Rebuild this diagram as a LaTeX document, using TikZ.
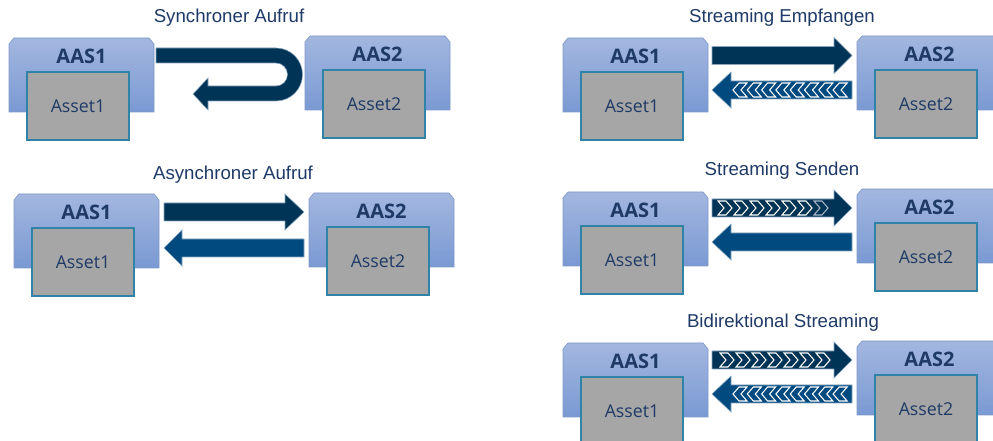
\documentclass[tikz,border=0pt]{standalone}
\usepackage{fontspec}
\setmainfont{Open Sans}
\newfontfamily\titlefont{Liberation Sans}
\usetikzlibrary{calc}

\definecolor{aastop}{HTML}{A3B7DF}
\definecolor{aasbot}{HTML}{7A99D3}
\definecolor{aasedge}{HTML}{8099C8}
\definecolor{assetfill}{HTML}{A6A6A6}
\definecolor{assetedge}{HTML}{2F83A6}
\definecolor{ink}{HTML}{1F3A66}
\definecolor{arrowdark}{HTML}{003456}
\definecolor{arrowmid}{HTML}{004A7F}
\definecolor{arrowedge}{HTML}{8AA6C0}
\definecolor{chevfaint}{HTML}{A9B6C4}

\tikzset{
  aasbox/.style={rectangle, minimum width=108.75pt, minimum height=55.5pt,
    inner sep=0pt, outer sep=0pt},
  aasshape/.style={top color=aastop, bottom color=aasbot, draw=aasedge, line width=0.5pt},
  assetbox/.style={rectangle, fill=assetfill, draw=assetedge, line width=0.8pt,
    minimum width=76.5pt, minimum height=51pt, inner sep=0pt, outer sep=0pt,
    text=ink, font=\fontsize{13.3}{15}\selectfont},
  aaslabel/.style={anchor=base, inner sep=0pt, text=ink,
    font=\bfseries\fontsize{15}{17}\selectfont},
  heading/.style={inner sep=0pt, text=ink, font=\titlefont\fontsize{14}{16}\selectfont},
  blockarrow/.style={draw=arrowedge, line width=0.4pt},
  chev/.style={draw=white, line width=0.8pt, line join=miter},
}

% one AAS with its asset: name, left x, top y, number
\newcommand\aasunit[4]{%
  \node[aasbox] (#1) at (#2+72.5,#3+37) {};
  \path[aasshape] (#1.south west) -- ($(#1.north west)+(0,6)$) -- ($(#1.north west)+(5,0)$)
    -- ($(#1.north east)+(-5,0)$) -- ($(#1.north east)+(0,6)$) -- (#1.south east) -- cycle;
  \node[aaslabel] (#1-t) at (#2+72.5,#3+26) {AAS#4};
  \node[assetbox] (#1-a) at (#2+69,#3+68) {Asset#4};
}
% straight block arrow: fill, tail x, head base x, tip x, centre y
\newcommand\barrow[5]{%
  \filldraw[blockarrow, fill=#1] (#2,#5-9) -- (#3,#5-9) -- (#3,#5-18) -- (#4,#5)
    -- (#3,#5+18) -- (#3,#5+9) -- (#2,#5+9) -- cycle;
}
% chevrons pointing right: first x, pitch, count, centre y
\newcommand\rchevs[4]{%
  \foreach \i in {1,...,#3}{%
    \pgfmathsetmacro\cx{#1+(\i-1)*#2}
    \draw[chev] (\cx,#4-7) -- (\cx+8,#4-7) -- (\cx+14,#4) -- (\cx+8,#4+7)
      -- (\cx,#4+7) -- (\cx+6,#4) -- cycle;
  }
}
% chevrons pointing left: first x, pitch, count, centre y
\newcommand\lchevs[4]{%
  \foreach \i in {1,...,#3}{%
    \pgfmathsetmacro\cx{#1+(\i-1)*#2}
    \draw[chev] (\cx+14,#4-7) -- (\cx+6,#4-7) -- (\cx,#4) -- (\cx+6,#4+7)
      -- (\cx+14,#4+7) -- (\cx+8,#4) -- cycle;
  }
}

\begin{document}
\begin{tikzpicture}[x=0.75pt,y=-0.75pt]
\useasboundingbox (0,0) rectangle (993,441);
\clip (0,0) rectangle (993,441);
\fill[white] (0,0) rectangle (993,441);

% synchronous call
\node[heading] (t1) at (229,18) {Synchroner Aufruf};
\aasunit{s1}{9}{38}{1}
\aasunit{s2}{305}{36}{2}
\filldraw[blockarrow, fill=arrowdark] (156,48) -- (276,48)
  arc[start angle=-90, end angle=90, radius=26.5] -- (208,101) -- (208,110)
  -- (193,94) -- (208,78) -- (208,86) -- (276,86)
  arc[start angle=90, end angle=-90, radius=11.5] -- (156,63) -- cycle;

% asynchronous call
\node[heading] (t2) at (233,175) {Asynchroner Aufruf};
\aasunit{a1}{14}{194}{1}
\aasunit{a2}{309}{193}{2}
\barrow{arrowdark}{164}{285}{304}{212}
\barrow{arrowmid}{304}{182}{164}{248}

% streaming receive
\node[heading] (t3) at (782,18) {Streaming Empfangen};
\aasunit{e1}{563}{38}{1}
\aasunit{e2}{857}{36}{2}
\barrow{arrowdark}{712}{834}{852}{55.5}
\barrow{arrowmid}{852}{731}{712}{90}
\lchevs{733}{14.3}{8}{90}

% streaming send
\node[heading] (t4) at (782,171) {Streaming Senden};
\aasunit{d1}{563}{192}{1}
\aasunit{d2}{857}{189}{2}
\barrow{arrowdark}{712}{834}{852}{208}
\barrow{arrowmid}{852}{731}{712}{242}
\rchevs{718}{16}{6}{208}
\draw[chev, draw=chevfaint] (814,201) -- (822,201) -- (828,208) -- (822,215)
  -- (814,215) -- (820,208) -- cycle;

% bidirectional streaming
\node[heading] (t5) at (783,323) {Bidirektional Streaming};
\aasunit{b1}{563}{343}{1}
\aasunit{b2}{857}{341}{2}
\barrow{arrowdark}{712}{834}{852}{360}
\barrow{arrowmid}{852}{731}{712}{394}
\rchevs{720}{16}{7}{360}
\lchevs{733}{14.3}{8}{394}
\end{tikzpicture}
\end{document}
